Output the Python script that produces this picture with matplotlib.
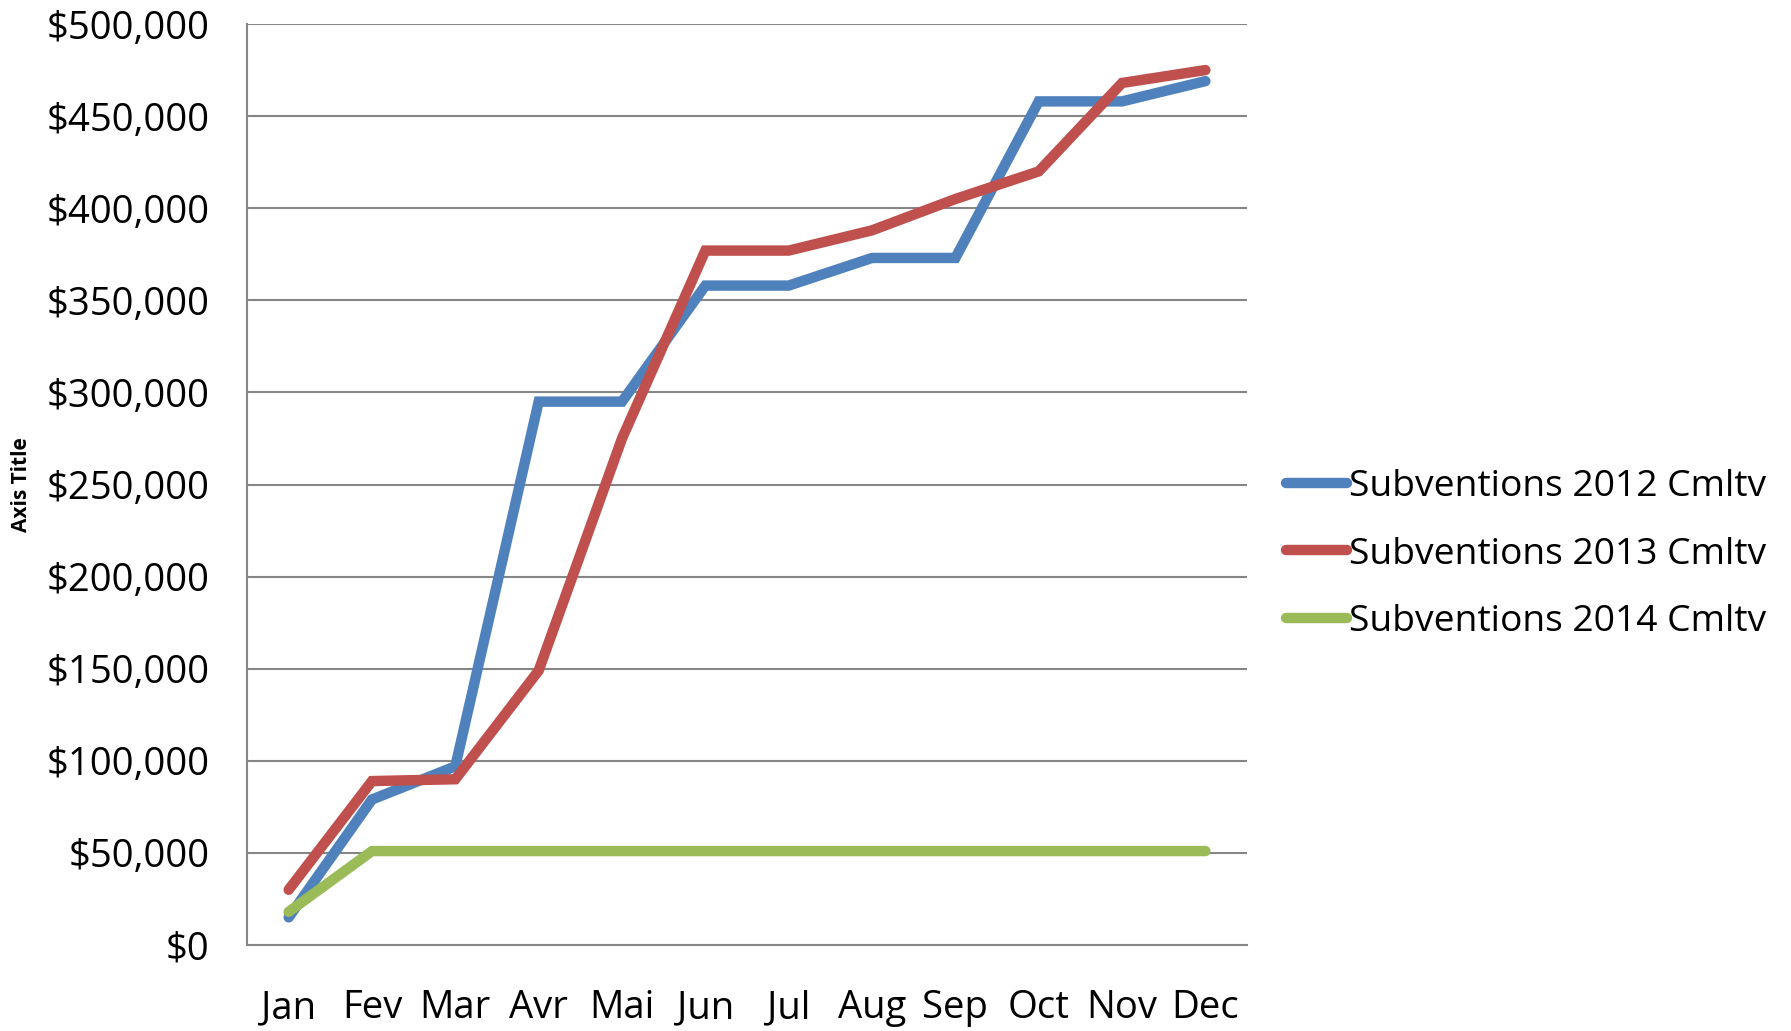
import matplotlib.pyplot as plt
from matplotlib.ticker import FuncFormatter, MultipleLocator

plt.rcParams['font.family'] = ['Open Sans', 'DejaVu Sans']

# Donnees
months = ["Jan", "Fev", "Mar", "Avr", "Mai", "Jun", "Jul", "Aug", "Sep", "Oct", "Nov", "Dec"]
subv_2012 = [15000, 79000, 97000, 295000, 295000, 358000, 358000, 373000, 373000, 458000, 458000, 469000]
subv_2013 = [30000, 89000, 90000, 149000, 275000, 377000, 377000, 388000, 405000, 420000, 468000, 475000]
subv_2014 = [18000, 51000, 51000, 51000, 51000, 51000, 51000, 51000, 51000, 51000, 51000, 51000]
series_names = ["Subventions 2012 Cmltv", "Subventions 2013 Cmltv", "Subventions 2014 Cmltv"]
colors = ["#4F81BD", "#C0504D", "#9BBB59"]

fig = plt.figure(figsize=(17.91, 10.31), dpi=100)
ax = fig.add_axes([0.1379, 0.0834, 0.5584, 0.8933])

x = range(len(months))
for vals, name, c in zip([subv_2012, subv_2013, subv_2014], series_names, colors):
    ax.plot(x, vals, color=c, lw=7.5, label=name, solid_capstyle='round', solid_joinstyle='miter')

ax.set_xlim(-0.5, len(months) - 0.5)
ax.set_ylim(0, 500000)
ax.yaxis.set_major_locator(MultipleLocator(50000))
ax.yaxis.set_major_formatter(FuncFormatter(lambda v, p: "${:,.0f}".format(v)))
ax.set_xticks(list(x))
ax.set_xticklabels(months)

ax.grid(axis='y', color='#868686', lw=1.5)
ax.set_axisbelow(True)
for s in ['top', 'right']:
    ax.spines[s].set_visible(False)
for s in ['left', 'bottom']:
    ax.spines[s].set_color('#868686')
    ax.spines[s].set_linewidth(1.5)
ax.tick_params(axis='both', length=0, labelsize=27.5)
ax.tick_params(axis='y', pad=27)
ax.tick_params(axis='x', pad=32)

fig.text(0.012, 0.53, "Axis Title", rotation=90, fontsize=15, fontweight='bold', va='center', ha='center')

ax.legend(loc='center left', bbox_to_anchor=(1.039, 0.424), frameon=False, fontsize=26.8,
          handlelength=1.65, handletextpad=0.05, labelspacing=0.85, borderpad=0, borderaxespad=0)

fig.savefig("out.png", dpi=100)
